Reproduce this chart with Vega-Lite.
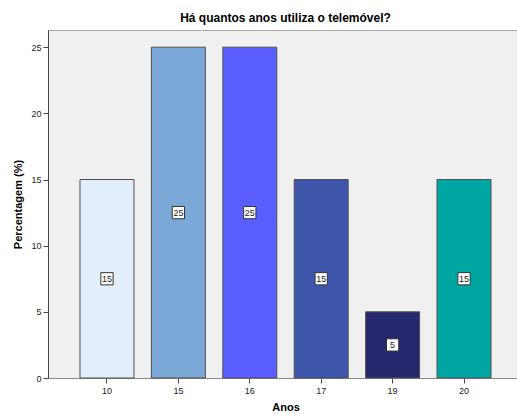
{
  "$schema": "https://vega.github.io/schema/vega-lite/v6.json",
  "autosize": "none",
  "padding": {"left": 48, "top": 30, "right": 0, "bottom": 36},
  "width": 475,
  "height": 348,
  "background": "white",
  "title": {"text": "Há quantos anos utiliza o telemóvel?", "font": "Liberation Sans", "fontSize": 12, "fontWeight": "bold", "color": "#000000", "anchor": "middle", "offset": 5},
  "config": {
    "view": {"fill": "#F0F0F0", "stroke": "#A8A8A8", "strokeWidth": 1},
    "axis": {"labelFont": "Liberation Sans", "titleFont": "Liberation Sans", "labelColor": "#222222", "titleColor": "#000000", "domainColor": "#444444", "tickColor": "#444444", "grid": false}
  },
  "data": {"values": [
    {"ano": "10", "pct": 15, "label": "15"},
    {"ano": "15", "pct": 25, "label": "25"},
    {"ano": "16", "pct": 25, "label": "25"},
    {"ano": "17", "pct": 15, "label": "15"},
    {"ano": "19", "pct": 5, "label": "5"},
    {"ano": "20", "pct": 15, "label": "15"}
  ]},
  "encoding": {
    "x": {"field": "ano", "type": "ordinal", "sort": null,
      "scale": {"paddingInner": 0.244, "paddingOuter": 0.448},
      "axis": {"title": "Anos", "labelAngle": 0, "labelFontSize": 9, "titleFontSize": 11, "titleFontWeight": "bold", "tickSize": 5, "labelPadding": 3, "titlePadding": 6, "domainColor": "#888888"}}
  },
  "layer": [
    {"mark": {"type": "bar", "stroke": "#505050", "strokeWidth": 1, "opacity": 1},
     "encoding": {
       "y": {"field": "pct", "type": "quantitative",
         "scale": {"domain": [0, 26.3], "nice": false},
         "axis": {"title": "Percentagem (%)", "values": [0, 5, 10, 15, 20, 25], "labelFontSize": 9, "titleFontSize": 11, "titleFontWeight": "bold", "tickSize": 5, "labelPadding": 2, "titlePadding": 7}},
       "color": {"field": "ano", "type": "nominal", "sort": null, "legend": null,
         "scale": {"domain": ["10", "15", "16", "17", "19", "20"], "range": ["#E3EEFB", "#7BA8D6", "#5B5EFF", "#3D56AB", "#26286E", "#00A6A1"]}}}},
    {"encoding": {"y": {"field": "pct", "type": "quantitative", "scale": {"domain": [0, 52.6], "nice": false}, "axis": null}},
     "layer": [
      {"mark": {"type": "point", "shape": "square", "size": 150, "filled": true, "fill": "white", "stroke": "#333333", "strokeWidth": 1, "opacity": 1}},
      {"mark": {"type": "text", "font": "Liberation Sans", "fontSize": 9, "color": "#222222", "baseline": "middle", "align": "center"},
       "encoding": {"text": {"field": "label"}}}
     ]}
  ],
  "resolve": {"scale": {"y": "independent"}, "axis": {"y": "independent"}}
}
